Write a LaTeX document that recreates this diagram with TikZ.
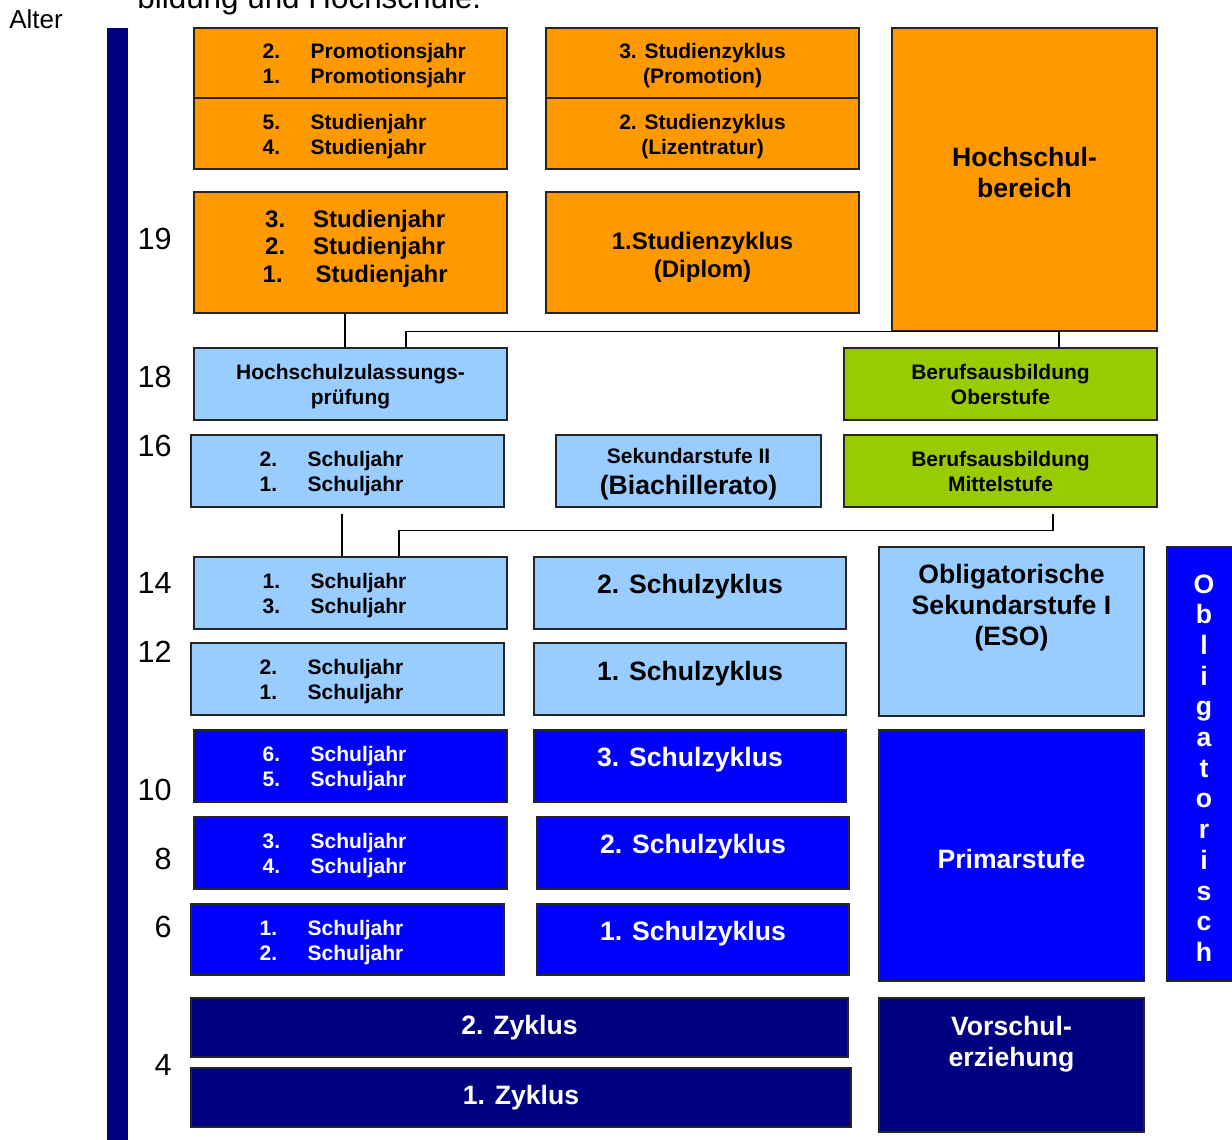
\documentclass[tikz,border=0pt]{standalone}
\usepackage{fontspec}
\setmainfont{Liberation Sans}
\usepackage{tikz}
\usetikzlibrary{positioning}

\definecolor{cOrange}{HTML}{FF9900}
\definecolor{cHell}{HTML}{99CCFF}
\definecolor{cGruen}{HTML}{99CC00}
\definecolor{cBlau}{HTML}{0000FF}
\definecolor{cNavy}{HTML}{000080}
\newcommand{\jr}[2]{\makebox[24pt][l]{#1}#2}

\begin{document}
\begin{tikzpicture}[x=0.5pt, y=-0.5pt]
		\tikzstyle{Box}		= [rectangle, draw=black!85, line width=0.7pt, inner sep=0pt, align=center]
		\tikzstyle{Breit}	= [minimum width=156.5pt, minimum height=36pt]
		\tikzstyle{Schmal}	= [minimum width=132.5pt]
		\tikzstyle{Orange}	= [fill=cOrange]
		\tikzstyle{Hell}	= [fill=cHell]
		\tikzstyle{Gruen}	= [fill=cGruen]
		\tikzstyle{Blau}	= [fill=cBlau, text=white]
		\tikzstyle{Dunkel}	= [fill=cNavy, text=white]
		\tikzstyle{Klein}	= [font=\fontsize{10.5}{12.5}\selectfont\bfseries, align=center]
		\tikzstyle{Mittel}	= [font=\fontsize{12}{13.75}\selectfont\bfseries, align=center]
		\tikzstyle{Gross}	= [font=\fontsize{13.3}{15.5}\selectfont\bfseries, align=center]
		\tikzstyle{Jahre}	= [inner sep=0pt, align=left, yshift=-1.5pt]
		\tikzstyle{Alter}	= [anchor=east, inner sep=0pt, font=\fontsize{15.3}{18}\selectfont]
		\tikzstyle{Linie}	= [line width=0.75pt, black]

		\useasboundingbox (0,0) rectangle (1232,1140);

		% Kopf und Altersachse
		\node (titel) at (137,9) [anchor=base west, inner sep=0pt, font=\fontsize{15.7}{18}\selectfont] {bildung und Hochschule.};
		\node (alter) at (36,19) [font=\fontsize{13}{15}\selectfont] {Alter};
		\fill [cNavy] (107,28) rectangle (128,1150);

		\node (j19) at (172,239) [Alter] {19};
		\node (j18) at (172,377) [Alter] {18};
		\node (j16) at (172,446) [Alter] {16};
		\node (j14) at (172,583) [Alter] {14};
		\node (j12) at (172,652) [Alter] {12};
		\node (j10) at (172,790) [Alter] {10};
		\node (j8) at (172,859) [Alter] {8};
		\node (j6) at (172,927) [Alter] {6};
		\node (j4) at (172,1065) [Alter] {4};

		% Hochschule
		\node (a1) at (350.5,63) [Box][Breit][Orange][minimum height=35pt] {};
		\node (t_a1) [Jahre][Klein][right=34.5pt of a1.west] {\jr{2.}{Promotionsjahr}\\\jr{1.}{Promotionsjahr}};
		\node (a2) at (350.5,133.5) [Box][Breit][Orange][minimum height=35.5pt] {};
		\node (t_a2) [Jahre][Klein][right=34.5pt of a2.west] {\jr{5.}{Studienjahr}\\\jr{4.}{Studienjahr}};
		\node (a3) at (350.5,252.5) [Box][Breit][Orange][minimum height=60.5pt] {};
		\node (t_a3) [Jahre][Mittel][right=34.5pt of a3.west, yshift=3.5pt] {\jr{3.}{Studienjahr}\\\jr{2.}{Studienjahr}\\\jr{1.}{\hspace{2.5pt}Studienjahr}};

		\node (b1) at (702.5,63) [Box][Breit][Orange][minimum height=35pt] {};
		\node (t_b1) at ([yshift=-1.5pt]b1.center) [Klein] {3. Studienzyklus\\(Promotion)};
		\node (b2) at (702.5,133.5) [Box][Breit][Orange][minimum height=35.5pt] {};
		\node (t_b2) at ([yshift=-1.5pt]b2.center) [Klein] {2. Studienzyklus\\(Lizentratur)};
		\node (b3) at (702.5,252.5) [Box][Breit][Orange][minimum height=60.5pt] {};
		\node (t_b3) at ([yshift=-2.5pt]b3.center) [Mittel] {1.Studienzyklus\\(Diplom)};

		\node (hsb) at (1024.5,179.5) [Box][Schmal][Orange][minimum height=151.5pt] {};
		\node (t_hsb) at ([yshift=3.75pt]hsb.center) [Gross] {Hochschul-\\bereich};

		% Sekundarstufe II und Berufsausbildung
		\node (hzp) at (350.5,384) [Box][Breit][Hell] {};
		\node (t_hzp) at ([yshift=-1.25pt]hzp.center) [Klein] {Hochschulzulassungs-\\prüfung};
		\node (ober) at (1000.5,384) [Box][Breit][Gruen][Klein] {Berufsausbildung\\Oberstufe};
		\node (s16) at (347.5,471) [Box][Breit][Hell] {};
		\node (t_s16) [Jahre][Klein][right=34.5pt of s16.west] {\jr{2.}{Schuljahr}\\\jr{1.}{Schuljahr}};
		\node (sek2) at (688.5,471) [Box][Schmal][Hell][minimum height=36pt] {};
		\node (t_sek2) at ([yshift=-1.75pt]sek2.center) [Klein] {Sekundarstufe II\\[3pt]{\fontsize{13.3}{15.5}\selectfont(Biachillerato)}};
		\node (mittel) at (1000.5,471) [Box][Breit][Gruen][Klein] {Berufsausbildung\\Mittelstufe};

		% Sekundarstufe I
		\node (s14) at (350.5,593) [Box][Breit][Hell] {};
		\node (t_s14) [Jahre][Klein][right=34.5pt of s14.west] {\jr{1.}{Schuljahr}\\\jr{3.}{Schuljahr}};
		\node (sz2a) at (690,593) [Box][Breit][Hell][minimum width=156pt] {};
		\node (t_sz2a) at ([yshift=3pt]sz2a.center) [Gross] {2. Schulzyklus};
		\node (eso) at (1011.5,631.5) [Box][Schmal][Hell][minimum height=84.5pt] {};
		\node (t_eso) at ([yshift=11.75pt]eso.center) [Gross] {Obligatorische\\Sekundarstufe I\\(ESO)};
		\node (s12) at (347.5,679) [Box][Breit][Hell] {};
		\node (t_s12) [Jahre][Klein][right=34.5pt of s12.west] {\jr{2.}{Schuljahr}\\\jr{1.}{Schuljahr}};
		\node (sz1a) at (690,679) [Box][Breit][Hell][minimum width=156pt] {};
		\node (t_sz1a) at ([yshift=2.5pt]sz1a.center) [Gross] {1. Schulzyklus};

		% Primarstufe
		\node (s10) at (350.5,766) [Box][Breit][Blau] {};
		\node (t_s10) [Jahre][Klein][text=white][right=34.5pt of s10.west] {\jr{6.}{Schuljahr}\\\jr{5.}{Schuljahr}};
		\node (sz3) at (690,766) [Box][Breit][Blau][minimum width=156pt] {};
		\node (t_sz3) at ([yshift=3pt]sz3.center) [Gross][text=white] {3. Schulzyklus};
		\node (s8) at (350.5,853) [Box][Breit][Blau] {};
		\node (t_s8) [Jahre][Klein][text=white][right=34.5pt of s8.west] {\jr{3.}{Schuljahr}\\\jr{4.}{Schuljahr}};
		\node (sz2b) at (693,853) [Box][Breit][Blau][minimum width=156pt] {};
		\node (t_sz2b) at ([yshift=3pt]sz2b.center) [Gross][text=white] {2. Schulzyklus};
		\node (s6) at (347.5,939.5) [Box][Breit][Blau][minimum height=35.5pt] {};
		\node (t_s6) [Jahre][Klein][text=white][right=34.5pt of s6.west] {\jr{1.}{Schuljahr}\\\jr{2.}{Schuljahr}};
		\node (sz1b) at (693,939.5) [Box][Breit][Blau][minimum width=156pt, minimum height=35.5pt] {};
		\node (t_sz1b) at ([yshift=2.75pt]sz1b.center) [Gross][text=white] {1. Schulzyklus};
		\node (prim) at (1011.5,855.5) [Box][Schmal][Blau][minimum height=125.5pt] {};
		\node (t_prim) at ([yshift=-1.5pt]prim.center) [Gross][text=white] {Primarstufe};
		\node (obl) at (1204,764) [Box][Blau][minimum width=37pt, minimum height=217pt] {};
		\node (t_obl) at ([yshift=-2pt]obl.center) [text=white, align=center, inner sep=0pt, font=\fontsize{13.3}{15.35}\selectfont\bfseries] {O\\b\\l\\i\\g\\a\\t\\o\\r\\i\\s\\c\\h};

		% Vorschule
		\node (z2) at (519.5,1027.5) [Box][Dunkel][Gross][minimum width=328.5pt, minimum height=29.5pt] {2. Zyklus};
		\node (z1) at (521,1097.5) [Box][Dunkel][Gross][minimum width=330pt, minimum height=29.5pt] {1. Zyklus};
		\node (vor) at (1011.5,1065) [Box][Schmal][Dunkel][minimum height=67pt] {};
		\node (t_vor) at ([yshift=10.25pt]vor.center) [Gross][text=white] {Vorschul-\\erziehung};

		% Uebergaenge
		\draw [Linie] ([xshift=-2.75pt]a3.south) -- ([xshift=-2.75pt]hzp.north);
		\draw [Linie] ([xshift=27.75pt]hzp.north) |- ([xshift=17.25pt]hsb.south) -- ([xshift=29.25pt]ober.north);
		\draw [Linie] ([xshift=-2.75pt, yshift=-3pt]s16.south) -- ([xshift=-4.25pt]s14.north);
		\draw [Linie] ([xshift=26.25pt, yshift=-3pt]mittel.south) -- ([xshift=26.25pt, yshift=-11.5pt]mittel.south) -| ([xshift=24.25pt]s14.north);
	\end{tikzpicture}
\end{document}
